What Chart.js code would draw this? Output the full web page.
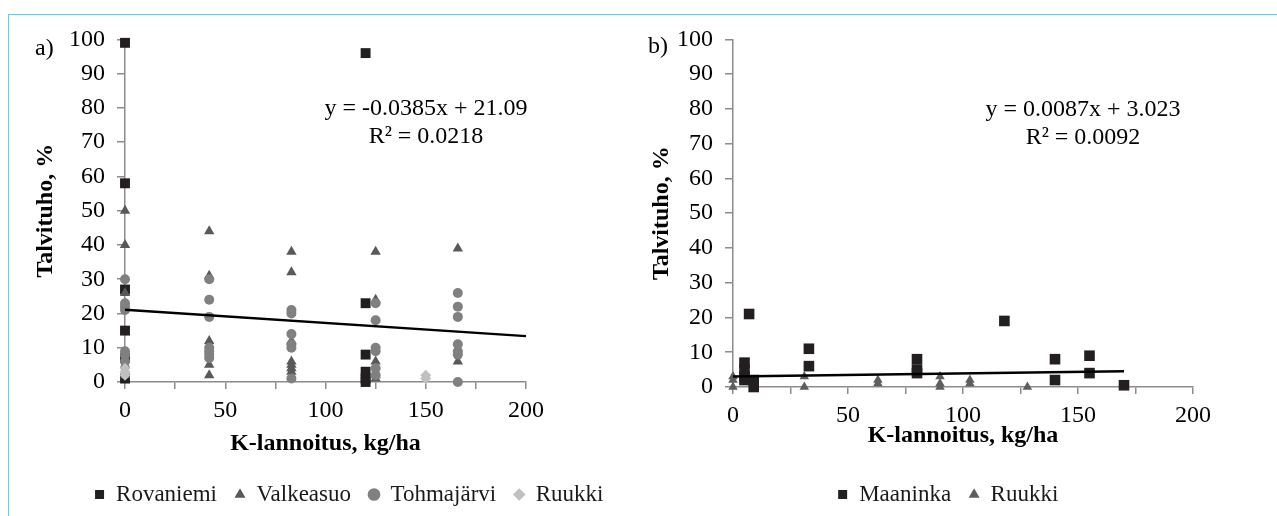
<!DOCTYPE html>
<html>
<head>
<meta charset="utf-8">
<script src="https://cdn.jsdelivr.net/npm/chart.js@4.4.0/dist/chart.umd.min.js"></script>
<style>
  body { margin: 0; background: #fff; width: 1277px; height: 516px; overflow: hidden; position: relative;
         font-family: 'Liberation Serif', 'Times New Roman', serif; color: #000; }
  #frame { position: absolute; left: 8px; top: 14px; right: -2px; bottom: -2px;
           border-top: 1.5px solid #7cc0e4; border-left: 1.5px solid #7cc0e4; }
  canvas { position: absolute; top: 13px; }
  #chartA { left: 8px; }
  #chartB { left: 640px; }
  .lbl { position: absolute; font-size: 24px; line-height: 24px; }
  .eq { position: absolute; font-size: 24px; line-height: 28px; width: 300px; text-align: center; }
</style>
</head>
<body>
<div id="frame"></div>
<canvas id="chartA" width="682" height="503"></canvas>
<canvas id="chartB" width="637" height="503"></canvas>
<div class="lbl" style="left:35px; top:35px;">a)</div>
<div class="lbl" style="left:648px; top:33px;">b)</div>
<div class="eq" style="left:276px; top:93px;">y = -0.0385x + 21.09<br>R² = 0.0218</div>
<div class="eq" style="left:933px; top:94px;">y = 0.0087x + 3.023<br>R² = 0.0092</div>
<script>
// a) plot
const rovaniemiX = [0, 0, 0, 0, 0, 0, 120, 120, 120, 120, 120, 120];
const rovaniemiY = [99, 58, 27, 15, 7, 1, 96, 23, 8, 3, 1, 0];
const valkeasuoX = [0, 0, 0, 0, 0, 0, 42, 42, 42, 42, 42, 83, 83, 83, 83, 83, 83, 83, 125, 125, 125, 125, 125, 166, 166];
const valkeasuoY = [50, 40, 26, 8, 5, 2, 44, 31, 12, 5, 2, 38, 32, 12, 6, 5, 4, 3, 38, 24, 6, 2, 1, 39, 6];
const tohmajarviX = [0, 0, 0, 0, 0, 0, 0, 42, 42, 42, 42, 42, 42, 42, 83, 83, 83, 83, 83, 83,
                     125, 125, 125, 125, 125, 125, 166, 166, 166, 166, 166, 166, 166];
const tohmajarviY = [30, 23, 22, 21, 9, 8, 6, 30, 24, 19, 10, 9, 8, 7, 21, 20, 14, 11, 10, 1,
                     23, 18, 10, 9, 4, 2, 26, 22, 19, 11, 9, 8, 0];
const ruukkiAX = [0, 0, 0, 150, 150];
const ruukkiAY = [4, 3, 2, 2, 1];
const trendA = { slope: -0.0385, intercept: 21.09, xEnd: 200 };

// b) plot
const maaninkaX = [5, 5, 5, 5, 7, 9, 9, 33, 33, 80, 80, 80, 118, 140, 140, 155, 155, 170];
const maaninkaY = [7, 5, 3, 2, 21, 2, 0, 11, 6, 8, 5, 4, 19, 8, 2, 9, 4, 0.5];
const ruukkiBX = [0, 0, 0, 31, 31, 63, 63, 90, 90, 90, 103, 103, 128];
const ruukkiBY = [3, 2, 0, 3, 0, 2, 1, 3, 1, 0, 2, 1, 0];
const trendB = { slope: 0.0087, intercept: 3.023, xEnd: 170 };

// axes
const xMax = 200, xStep = 25, xLabelStep = 50;
const yMax = 100, yStep = 10;

const FONT = "'Liberation Serif', 'Times New Roman', serif";
const AXIS = '#8c8c8c';
Chart.defaults.font.family = FONT;
Chart.defaults.color = '#000';

function pts(xs, ys) {
    return xs.map((x, i) => ({ x: x, y: ys[i] }));
}

function scatter(label, xs, ys, color, style, radius, order) {
    return {
        label: label,
        data: pts(xs, ys),
        pointStyle: style,
        pointRadius: radius,
        pointHoverRadius: radius,
        backgroundColor: color,
        borderColor: color,
        borderWidth: 0,
        clip: false,
        order: order
    };
}

function trend(t) {
    return {
        type: 'line',
        label: 'trend',
        data: [{ x: 0, y: t.intercept }, { x: t.xEnd, y: t.intercept + t.slope * t.xEnd }],
        borderColor: '#000',
        borderWidth: 2.5,
        pointRadius: 0,
        fill: false,
        clip: false,
        order: 0
    };
}

function options(yWidth, yTitlePad, xHeight, xTitlePad, spacer, padRight) {
    return {
        responsive: false,
        animation: false,
        layout: { padding: { left: 0, right: padRight, top: 0, bottom: 0 } },
        plugins: {
            tooltip: { enabled: false },
            legend: {
                position: 'bottom',
                labels: {
                    usePointStyle: true,
                    boxWidth: 10,
                    boxHeight: 9,
                    padding: 18,
                    color: '#1a1a1a',
                    font: { size: 23, family: FONT },
                    filter: (item) => item.text !== 'trend',
                    sort: (a, b) => a.datasetIndex - b.datasetIndex
                }
            }
        },
        scales: {
            x: {
                type: 'linear',
                min: 0,
                max: xMax,
                afterFit: (s) => { s.height = xHeight; },
                ticks: {
                    stepSize: xStep,
                    padding: 7,
                    font: { size: 24 },
                    callback: (v) => (v % xLabelStep === 0 ? v : '')
                },
                grid: { drawOnChartArea: false, tickLength: 7, color: AXIS, lineWidth: 1.5 },
                border: { color: AXIS, width: 1.5 },
                title: {
                    display: true,
                    text: 'K-lannoitus, kg/ha',
                    font: { size: 24, weight: 'bold' },
                    padding: { top: 0, bottom: xTitlePad }
                }
            },
            y: {
                type: 'linear',
                position: 'left',
                min: 0,
                max: yMax,
                afterFit: (s) => { s.width = yWidth; },
                ticks: { stepSize: yStep, padding: 12, font: { size: 24 } },
                grid: { drawOnChartArea: false, tickLength: 8, color: AXIS, lineWidth: 1.5 },
                border: { color: AXIS, width: 1.5 },
                title: {
                    display: true,
                    text: 'Talvituho, %',
                    font: { size: 24, weight: 'bold' },
                    padding: { top: yTitlePad, bottom: 0 }
                }
            },
            spacer: {
                type: 'linear',
                position: 'right',
                afterFit: (s) => { s.width = spacer; },
                ticks: { display: false },
                grid: { display: false },
                border: { display: false }
            }
        }
    };
}

new Chart(document.getElementById('chartA'), {
    type: 'scatter',
    data: {
        datasets: [
            scatter('Rovaniemi', rovaniemiX, rovaniemiY, '#231f20', 'rect', 7, 4),
            scatter('Valkeasuo', valkeasuoX, valkeasuoY, '#595959', 'triangle', 6, 3),
            scatter('Tohmajärvi', tohmajarviX, tohmajarviY, '#808080', 'circle', 5, 2),
            scatter('Ruukki', ruukkiAX, ruukkiAY, '#c0c0c0', 'rectRot', 5.5, 1),
            trend(trendA)
        ]
    },
    options: options(117, 23, 83, 7, 164, 0)
});

new Chart(document.getElementById('chartB'), {
    type: 'scatter',
    data: {
        datasets: [
            scatter('Maaninka', maaninkaX, maaninkaY, '#231f20', 'rect', 7.5, 2),
            scatter('Ruukki', ruukkiBX, ruukkiBY, '#5e5e5e', 'triangle', 5.5, 1),
            trend(trendB)
        ]
    },
    options: options(93, 7, 78, 15, 63, 21)
});
</script>
</body>
</html>
